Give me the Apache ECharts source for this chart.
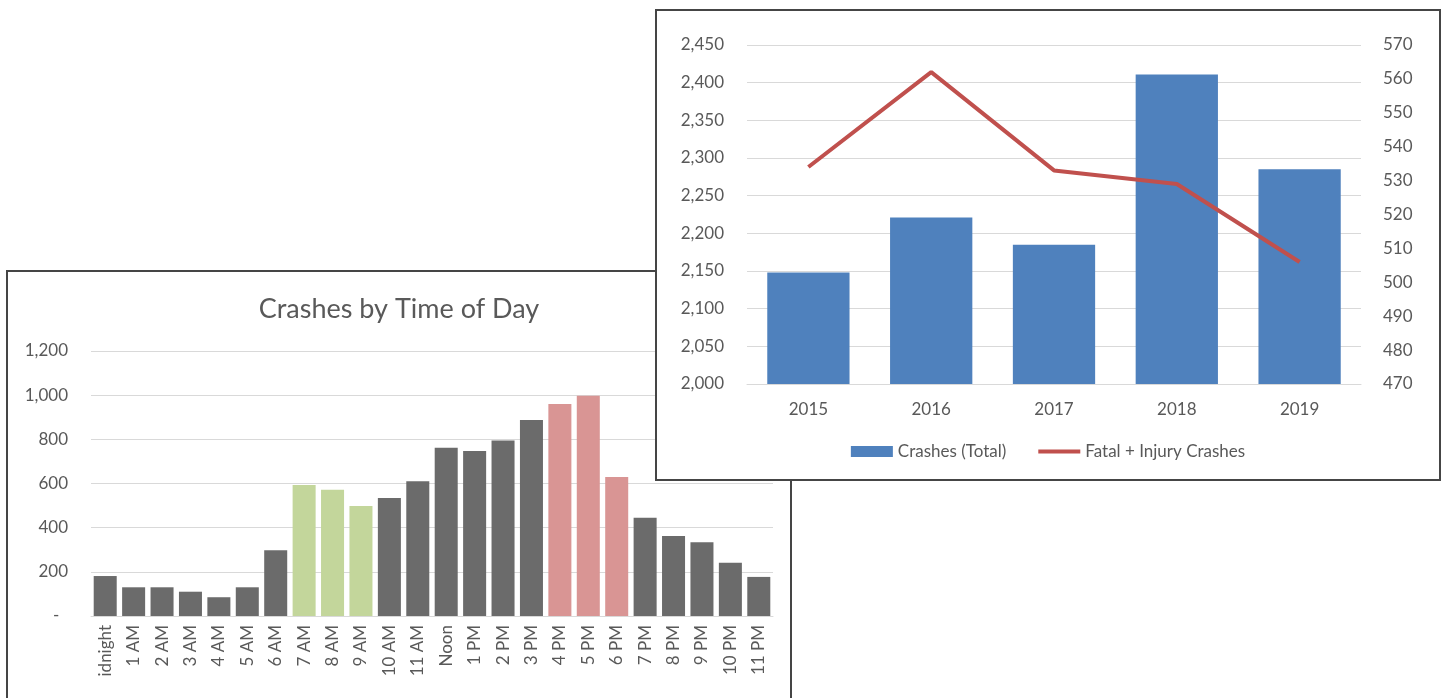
<!DOCTYPE html>
<html>
<head>
<meta charset="utf-8">
<script src="https://cdn.jsdelivr.net/npm/echarts@6/dist/echarts.min.js"></script>
<style>
  html, body { margin: 0; padding: 0; width: 1444px; height: 698px; overflow: hidden; background: #fff; }
  #c1 { position: absolute; left: 6px; top: 270px; width: 786px; height: 500px; box-sizing: border-box; border: 2px solid #454545; background: #fff; }
  #c2 { position: absolute; left: 655px; top: 9px; width: 786px; height: 472px; box-sizing: border-box; border: 2px solid #454545; background: #fff; }
</style>
</head>
<body>
<div id="c1"></div>
<div id="c2"></div>
<script>
// ---- Chart 1: Crashes by Time of Day ----
const hourLabels = ['idnight','1 AM','2 AM','3 AM','4 AM','5 AM','6 AM','7 AM','8 AM','9 AM','10 AM','11 AM',
  'Noon','1 PM','2 PM','3 PM','4 PM','5 PM','6 PM','7 PM','8 PM','9 PM','10 PM','11 PM'];
const hourCrashes = [181,130,130,110,85,130,298,593,572,498,534,610,762,747,795,887,960,997,629,445,362,334,241,177];
const morningPeak = ['7 AM','8 AM','9 AM'];
const eveningPeak = ['4 PM','5 PM','6 PM'];
const hourTicks = { min: 0, max: 1200, interval: 200 };

// ---- Chart 2: Yearly totals ----
const years = ['2015','2016','2017','2018','2019'];
const totalCrashes = [2148,2221,2185,2411,2285];
const fatalInjuryCrashes = [534,562,533,529,506];
const leftTicks = { min: 2000, max: 2450, interval: 50 };
const rightTicks = { min: 470, max: 570, interval: 10 };

const FONT = 'Lato';
const TXT = '#595959';
const GRID = '#d9d9d9';
const FS = 17;

const c1 = echarts.init(document.getElementById('c1'));
c1.setOption({
  animation: false,
  textStyle: { fontFamily: FONT },
  title: {
    text: 'Crashes by Time of Day', left: 'center', top: 19,
    textStyle: { fontFamily: FONT, fontSize: 27, fontWeight: 'normal', color: TXT }
  },
  grid: { left: 83, top: 79, width: 682, height: 265 },
  xAxis: {
    type: 'category', data: hourLabels,
    axisLine: { lineStyle: { color: GRID, width: 1 } },
    axisTick: { show: false },
    axisLabel: { interval: 0, rotate: 90, margin: 9, color: TXT, fontSize: FS, fontFamily: FONT }
  },
  yAxis: {
    type: 'value', min: hourTicks.min, max: hourTicks.max, interval: hourTicks.interval,
    axisLine: { show: false }, axisTick: { show: false },
    splitLine: { lineStyle: { color: GRID, width: 1 } },
    axisLabel: {
      margin: 23, color: TXT, fontSize: FS, fontFamily: FONT,
      formatter: v => v === 0 ? '-  ' : v.toLocaleString('en-US')
    }
  },
  series: [{
    type: 'bar', barCategoryGap: '19%',
    data: hourCrashes.map((v, i) => ({
      value: v,
      itemStyle: {
        color: morningPeak.includes(hourLabels[i]) ? '#c3d69b'
             : eveningPeak.includes(hourLabels[i]) ? '#d99594' : '#6b6b6b'
      }
    }))
  }]
});

const c2 = echarts.init(document.getElementById('c2'));
c2.setOption({
  animation: false,
  textStyle: { fontFamily: FONT },
  grid: { left: 90, top: 34, width: 614, height: 339 },
  legend: {
    left: 'center', top: 427, itemWidth: 42, itemHeight: 11, itemGap: 30,
    textStyle: { color: TXT, fontSize: FS, fontFamily: FONT },
    data: [
      { name: 'Crashes (Total)', icon: 'rect' },
      { name: 'Fatal + Injury Crashes', itemStyle: { opacity: 0 }, lineStyle: { width: 4, color: '#c0504d' } }
    ]
  },
  xAxis: {
    type: 'category', data: years,
    axisLine: { lineStyle: { color: GRID, width: 1 } },
    axisTick: { show: false },
    axisLabel: { margin: 17, color: TXT, fontSize: FS, fontFamily: FONT }
  },
  yAxis: [{
    type: 'value', min: leftTicks.min, max: leftTicks.max, interval: leftTicks.interval,
    axisLine: { show: false }, axisTick: { show: false },
    splitLine: { lineStyle: { color: GRID, width: 1 } },
    axisLabel: { margin: 23, color: TXT, fontSize: FS, fontFamily: FONT,
      formatter: v => v.toLocaleString('en-US') }
  }, {
    type: 'value', position: 'right', min: rightTicks.min, max: rightTicks.max, interval: rightTicks.interval,
    axisLine: { show: false }, axisTick: { show: false }, splitLine: { show: false },
    axisLabel: { margin: 22, color: TXT, fontSize: FS, fontFamily: FONT }
  }],
  series: [{
    name: 'Crashes (Total)', type: 'bar', yAxisIndex: 0, barCategoryGap: '33%',
    itemStyle: { color: '#4f81bd' },
    data: totalCrashes
  }, {
    name: 'Fatal + Injury Crashes', type: 'line', yAxisIndex: 1,
    symbol: 'none', lineStyle: { color: '#c0504d', width: 4 }, itemStyle: { color: '#c0504d' },
    data: fatalInjuryCrashes
  }]
});
</script>
</body>
</html>
